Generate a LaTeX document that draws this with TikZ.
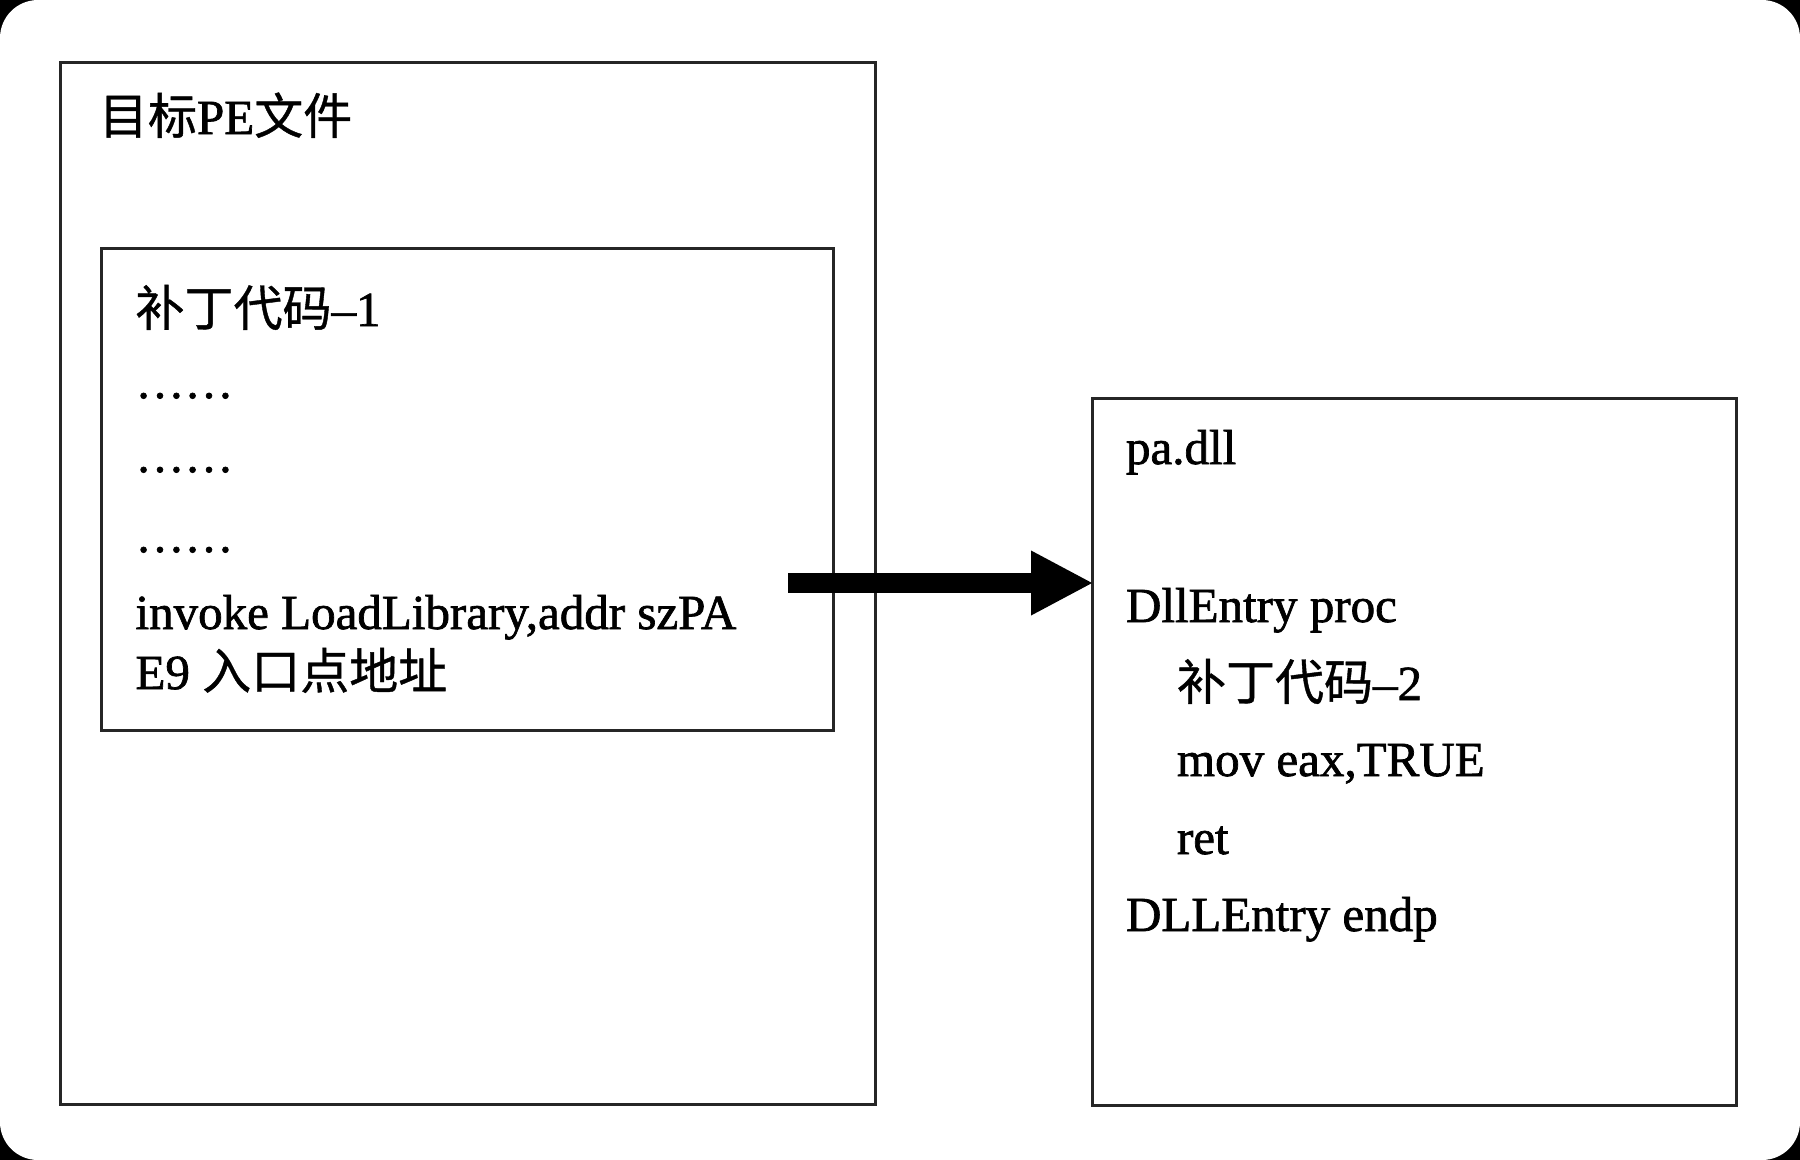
\documentclass[tikz,border=0pt]{standalone}
\usepackage{fontspec}
\setmainfont{Liberation Serif}[RawFeature={embolden=1.4}]
\newfontfamily\cjk{Noto Sans CJK SC}[RawFeature={embolden=0.8}]
\usetikzlibrary{arrows.meta}
\begin{document}
\begin{tikzpicture}[x=0.02cm,y=-0.02cm,
  box/.style={draw=black!85, line width=1.7pt, inner sep=0pt, outer sep=0pt},
  txt/.style={anchor=base west, inner sep=0pt, outer sep=0pt, font=\fontsize{27.9pt}{30pt}\selectfont},
  bigarrow/.style={line width=0.4cm, -{Triangle[length=1.22cm,width=1.3cm,line width=0pt]}}]
\fill[black] (0,0) rectangle (1800,1160);
\fill[white, rounded corners=0.76cm] (0,0) rectangle (1800,1160);
\useasboundingbox (0,0) rectangle (1800,1160);
% boxes
\node[box, minimum width=16.32cm, minimum height=20.86cm] (pe) at (468,583.5) {};
\node[box, minimum width=14.66cm, minimum height=9.66cm] (patch) at (467.5,489.5) {};
\node[box, minimum width=12.9cm, minimum height=14.16cm] (dll) at (1414.5,752) {};
% left texts
\node[txt] (t0) at (99,134) {{\cjk 目标}PE{\cjk 文件}};
\node[txt] (t1) at (135.5,326) {{\cjk 补丁代码}–1};
\node[txt] (t2) at (135.5,398) {……};
\node[txt] (t3) at (135.5,472) {……};
\node[txt] (t4) at (135.5,552) {……};
\node[txt] (t5) at (135.5,629) {invoke LoadLibrary,addr szPA};
\node[txt] (t6) at (135.5,689) {E9 {\cjk 入口点地址}};
% right texts
\node[txt] (d0) at (1126,464) {pa.dll};
\node[txt] (d1) at (1126,622) {DllEntry proc};
\node[txt] (d2) at (1177,700) {{\cjk 补丁代码}–2};
\node[txt] (d3) at (1177,776) {mov eax,TRUE};
\node[txt] (d4) at (1177,854) {ret};
\node[txt] (d5) at (1126,931) {DLLEntry endp};
% arrow
\coordinate (a0) at (788,583);
\draw[bigarrow] (a0) -- (dll.west |- a0);
\end{tikzpicture}
\end{document}
